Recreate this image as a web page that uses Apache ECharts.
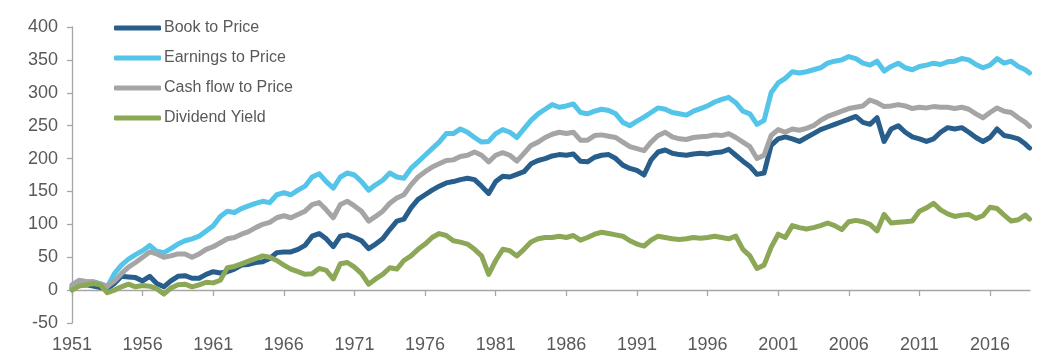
<!DOCTYPE html>
<html><head><meta charset="utf-8">
<script src="https://cdn.jsdelivr.net/npm/echarts@6/dist/echarts.min.js"></script>
<style>html,body{margin:0;padding:0;background:#fff}#c{width:1059px;height:356px}</style>
</head><body><div id="c"></div>
<script>
const years = [];
for (let y = 1951; y <= 2018.5; y += 0.5) years.push(y);
years.push(2018.8);

const tickYears = [1951,1956,1961,1966,1971,1976,1981,1986,1991,1996,2001,2006,2011,2016];
const yTicks = {min: -50, max: 400, step: 50};
const seriesNames = ['Book to Price','Earnings to Price','Cash flow to Price','Dividend Yield'];

const bookToPrice = [3,7,8,6,4,2,10,21,20,19,14,21,10,5,14,21,22,18,18,24,28,26,28,32,38,39,42,43,48,57,58,58,62,68,82,86,78,66,82,84,80,75,63,70,78,92,105,108,125,138,145,152,158,163,165,168,170,168,158,147,165,173,172,176,180,192,197,200,204,206,205,207,196,195,202,205,206,200,190,185,182,175,198,210,213,208,206,205,207,208,207,209,210,214,205,196,188,176,178,220,230,233,230,226,232,238,244,248,252,256,260,264,255,252,262,226,245,250,240,233,230,226,230,240,247,245,247,240,232,226,232,245,235,233,230,222,216];
const earningsToPrice = [5,10,12,13,10,5,25,38,47,54,60,68,59,57,63,70,75,78,82,90,98,112,120,118,124,128,132,135,133,145,148,145,152,158,172,177,165,155,172,178,175,165,152,160,167,178,172,170,185,195,205,215,225,238,238,245,240,232,225,226,238,244,240,232,245,258,268,275,282,278,280,283,270,268,272,275,273,268,255,250,257,263,270,277,275,270,268,266,272,276,280,286,290,293,285,272,268,252,258,300,315,322,332,330,332,335,338,345,348,350,355,352,345,342,348,333,340,345,338,335,340,342,345,343,347,348,352,350,343,338,342,352,345,348,340,335,330];
const cashFlowToPrice = [8,15,13,12,9,6,14,25,35,42,50,58,55,50,52,55,55,50,55,62,66,72,78,80,85,89,95,100,103,110,113,110,115,120,130,133,122,110,130,135,128,120,105,112,120,132,140,145,160,172,180,187,192,197,198,203,205,210,205,195,205,209,205,196,208,220,225,232,237,240,238,240,228,228,235,236,234,232,225,218,215,212,225,235,240,233,230,229,232,233,234,236,235,238,232,225,218,200,205,235,244,240,245,243,246,250,258,264,268,272,276,278,280,289,285,279,280,282,280,276,278,277,279,278,278,276,278,275,268,262,270,277,272,270,262,255,249];
const dividendYield = [0,6,8,10,8,-4,0,5,9,5,7,6,2,-6,3,8,9,5,8,12,11,15,34,36,40,44,48,52,50,45,38,32,28,24,25,33,30,17,40,42,35,25,9,17,24,34,32,45,52,62,70,80,86,83,75,73,70,62,52,24,45,62,60,52,62,73,78,80,80,82,80,83,76,80,85,88,86,84,82,75,70,67,76,82,80,78,77,78,80,79,80,82,80,78,82,62,52,33,38,65,85,80,98,95,93,95,98,102,98,92,104,106,104,100,90,115,102,103,104,105,120,125,132,122,116,112,114,115,109,113,126,124,114,105,107,114,108];

const colors = ['#275E8B','#54C4E8','#A5A5A5','#8CA857'];
const values = [bookToPrice, earningsToPrice, cashFlowToPrice, dividendYield];

const textColor = '#595959';
const axisColor = '#A6A6A6';
const font = 'Liberation Sans, Arial, sans-serif';

const chart = echarts.init(document.getElementById('c'), null, {renderer: 'canvas'});
chart.setOption({
  animation: false,
  backgroundColor: '#fff',
  grid: {left: 72, right: 29, top: 27, bottom: 33, containLabel: false},
  legend: {
    orient: 'vertical', left: 114, top: 20, padding: 0, itemWidth: 47, itemHeight: 5, itemGap: 14,
    icon: 'roundRect',
    textStyle: {color: textColor, fontSize: 16, fontFamily: font, padding: [0,0,0,-2]},
    data: seriesNames
  },
  xAxis: [
    {type: 'value', min: 1951, max: 2018.83,
     axisLine: {onZero: true, lineStyle: {color: axisColor, width: 1.3}},
     axisTick: {show: true, length: 6, inside: false, customValues: tickYears, lineStyle: {color: axisColor, width: 1.3}},
     axisLabel: {show: false}, splitLine: {show: false}},
    {type: 'value', min: 1951, max: 2018.83, position: 'bottom',
     axisLine: {show: false, onZero: false}, axisTick: {show: false},
     axisLabel: {show: true, customValues: tickYears, margin: 13, color: textColor, fontSize: 18, fontFamily: font,
                 formatter: v => String(Math.round(v))},
     splitLine: {show: false}}
  ],
  yAxis: {type: 'value', min: yTicks.min, max: yTicks.max, interval: yTicks.step,
    axisLine: {show: true, lineStyle: {color: axisColor, width: 1.3}},
    axisTick: {show: true, length: 5, lineStyle: {color: axisColor, width: 1.3}},
    axisLabel: {color: textColor, fontSize: 18, fontFamily: font, margin: 14},
    splitLine: {show: false}},
  series: seriesNames.map((n, i) => ({
    name: n, type: 'line', xAxisIndex: 0,
    data: years.map((y, j) => [y, values[i][j]]),
    showSymbol: false, symbol: 'none',
    lineStyle: {color: colors[i], width: 5, cap: 'round', join: 'round'},
    itemStyle: {color: colors[i]},
    z: [1,2,3,4][i]
  }))
});
</script></body></html>
